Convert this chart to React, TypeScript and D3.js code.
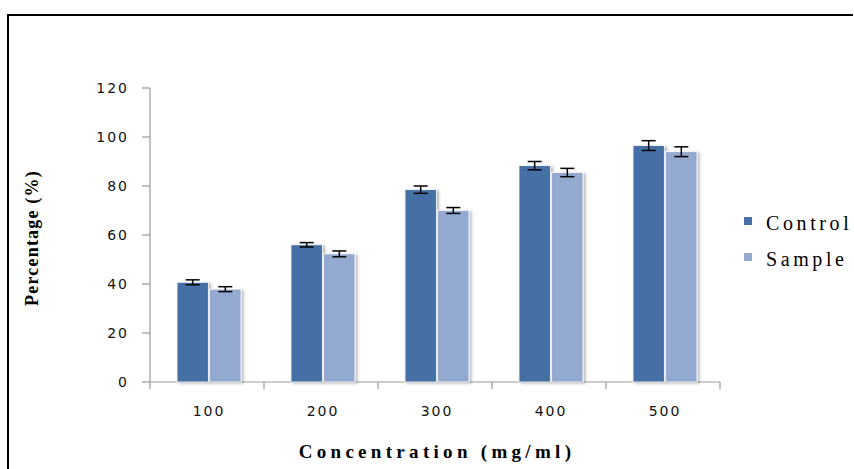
import React from "react";
import * as d3 from "d3";

const categories = ["100", "200", "300", "400", "500"];
const series = ["Control", "Sample"];
const controlValues = [40.7, 56.0, 78.5, 88.3, 96.5];
const sampleValues = [37.9, 52.3, 70.0, 85.5, 94.0];
const controlErrors = [1.0, 0.9, 1.5, 1.7, 2.0];
const sampleErrors = [1.0, 1.2, 1.2, 1.7, 2.0];
const yTicks = [0, 20, 40, 60, 80, 100, 120];
const colors = ["#4470A6", "#93A9CF"];

const W = 854;
const H = 469;
const left = 150;
const right = 720;
const top = 88;
const bottom = 382;

export default function App() {
  const x = d3.scaleBand<string>().domain(categories).range([left, right]).paddingInner(0).paddingOuter(0);
  const y = d3.scaleLinear().domain([0, 120]).range([bottom, top]);
  const inner = d3.scaleBand<string>().domain(series).range([0, 64]).paddingInner(0.04);
  const values = [controlValues, sampleValues];
  const errors = [controlErrors, sampleErrors];
  const bw = inner.bandwidth();
  const groupOffset = (x.bandwidth() - 64) / 2 + 2;

  return (
    <svg width={W} height={H} style={{ position: "absolute", left: 0, top: 0, background: "#fff" }}>
      <defs>
        <filter id="sh" x="-30%" y="-10%" width="160%" height="120%">
          <feGaussianBlur in="SourceAlpha" stdDeviation="1.6" />
          <feOffset dx="2" dy="1" result="b" />
          <feComponentTransfer><feFuncA type="linear" slope="0.3" /></feComponentTransfer>
          <feMerge><feMergeNode /><feMergeNode in="SourceGraphic" /></feMerge>
        </filter>
      </defs>
      <path d={`M8,${H} V15 H853`} fill="none" stroke="#000" strokeWidth={2} />

      {/* y axis */}
      <line x1={left} x2={left} y1={top} y2={bottom} stroke="#999" strokeWidth={1.2} />
      {yTicks.map((t) => (
        <g key={t}>
          <line x1={left - 8} x2={left} y1={y(t)} y2={y(t)} stroke="#999" strokeWidth={1.2} />
          <text x={left - 21} y={y(t) + 5} textAnchor="end" fontFamily="DejaVu Sans" fontSize={14} letterSpacing={2} fill="#111">{t}</text>
        </g>
      ))}
      {/* x axis */}
      <line x1={left} x2={right} y1={bottom} y2={bottom} stroke="#999" strokeWidth={1.2} />
      {[...categories.map((c) => x(c) as number), right].map((p, i) => (
        <line key={i} x1={p} x2={p} y1={bottom} y2={bottom + 7} stroke="#999" strokeWidth={1.2} />
      ))}
      {categories.map((c) => (
        <text key={c} x={(x(c) as number) + x.bandwidth() / 2 + 2} y={416} textAnchor="middle" fontFamily="DejaVu Sans" fontSize={14} letterSpacing={2} fill="#111">{c}</text>
      ))}

      {/* bars */}
      {series.map((s, si) =>
        categories.map((c, ci) => {
          const bx = (x(c) as number) + groupOffset + (inner(s) as number);
          const v = values[si][ci];
          const e = errors[si][ci];
          const cx = bx + bw / 2;
          return (
            <g key={s + c}>
              <rect x={bx} y={y(v)} width={bw} height={bottom - y(v)} fill={colors[si]} stroke="#fff" strokeWidth={0.8} filter="url(#sh)" />
              <line x1={cx} x2={cx} y1={y(v + e)} y2={y(v - e)} stroke="#000" strokeWidth={1.5} />
              <line x1={cx - 7} x2={cx + 7} y1={y(v + e)} y2={y(v + e)} stroke="#000" strokeWidth={1.5} />
              <line x1={cx - 7} x2={cx + 7} y1={y(v - e)} y2={y(v - e)} stroke="#000" strokeWidth={1.5} />
            </g>
          );
        })
      )}

      {/* titles */}
      <text transform={`translate(38,238) rotate(-90)`} textAnchor="middle" fontFamily="Liberation Serif" fontWeight="bold" fontSize={18} letterSpacing={1.2} fill="#000">Percentage (%)</text>
      <text x={437} y={458} textAnchor="middle" fontFamily="Liberation Serif" fontWeight="bold" fontSize={19} letterSpacing={4.3} fill="#000">Concentration (mg/ml)</text>

      {/* legend */}
      {series.map((s, i) => (
        <g key={s}>
          <rect x={744} y={217 + i * 36} width={8} height={8} fill={colors[i]} />
          <text x={766} y={230 + i * 36} fontFamily="Liberation Serif" fontSize={20} letterSpacing={3.6} fill="#000">{s}</text>
        </g>
      ))}
    </svg>
  );
}
